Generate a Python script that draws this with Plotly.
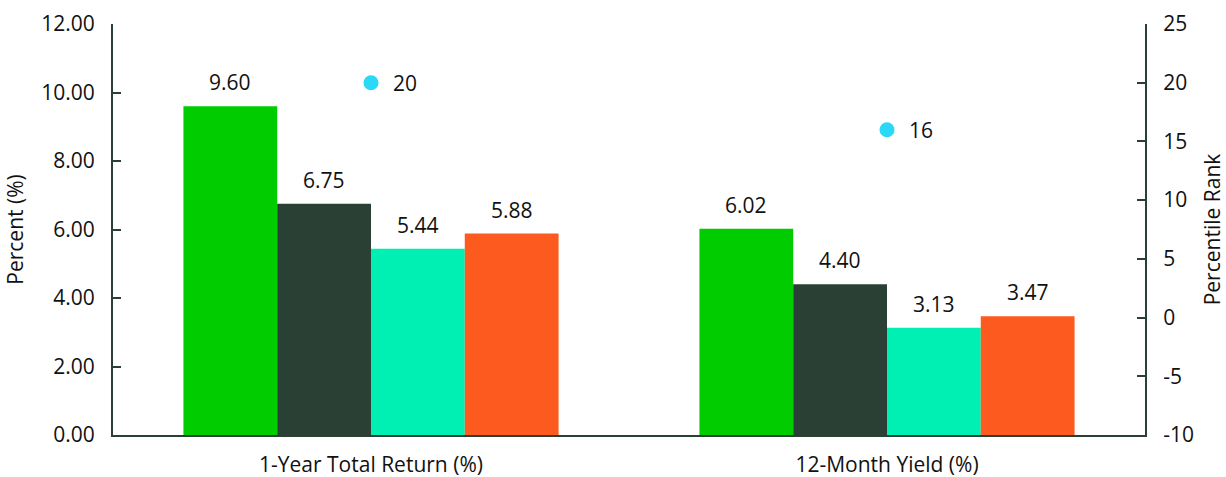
import plotly.graph_objects as go

categories = ["1-Year Total Return (%)", "12-Month Yield (%)"]
series_names = ["Series A", "Series B", "Series C", "Series D"]
series_values = [
    [9.60, 6.02],
    [6.75, 4.40],
    [5.44, 3.13],
    [5.88, 3.47],
]
series_colors = ["#00cc00", "#2a4035", "#00f0b4", "#fc5a1e"]
rank_values = [20, 16]
left_ticks = [0, 2, 4, 6, 8, 10, 12]
right_ticks = [-10, -5, 0, 5, 10, 15, 20, 25]

FONT = "'Open Sans', sans-serif"
FS = 21
AX = "#2a4035"
TXT = "#111111"

fig = go.Figure()
for name, vals, col in zip(series_names, series_values, series_colors):
    fig.add_trace(go.Bar(x=categories, y=vals, name=name, marker_color=col,
                         marker_line_width=0, showlegend=False))

annotations = []
for i, vals in enumerate(series_values):
    for j, v in enumerate(vals):
        annotations.append(dict(
            x=j, y=v, xref="x", yref="y", text=f"{v:.2f}", showarrow=False,
            yshift=24, xshift=(i - 1.5) * 94,
            font=dict(size=FS, color=TXT, family=FONT)))

fig.add_trace(go.Scatter(x=categories, y=rank_values, yaxis="y2", mode="markers",
                         marker=dict(color="#29d9f7", size=15), showlegend=False))
for j, v in enumerate(rank_values):
    annotations.append(dict(
        x=j, y=v, xref="x", yref="y2", text=str(v), showarrow=False,
        xanchor="left", xshift=20, font=dict(size=FS, color=TXT, family=FONT)))

fig.update_layout(
    width=1226, height=477,
    margin=dict(l=113, r=81, t=24, b=42),
    paper_bgcolor="white", plot_bgcolor="white",
    barmode="group", bargap=0.273, bargroupgap=0,
    font=dict(family=FONT, size=FS, color=TXT),
    annotations=annotations,
    xaxis=dict(showline=True, linecolor=AX, linewidth=2, ticks="", showgrid=False,
               tickfont=dict(size=FS), ticklabelstandoff=10, automargin=False),
    yaxis=dict(range=[0, 12], tickvals=left_ticks, tickformat=".2f",
               showline=True, linecolor=AX, linewidth=2, ticks="inside", ticklen=8,
               tickcolor=AX, tickwidth=2, showgrid=False, zeroline=False,
               title=dict(text="Percent (%)", font=dict(size=FS), standoff=12),
               ticklabelstandoff=12, automargin=False),
    yaxis2=dict(range=[-10, 25], tickvals=right_ticks,
                ticktext=[str(v) for v in right_ticks],
                overlaying="y", side="right",
                showline=True, linecolor=AX, linewidth=2, ticks="inside", ticklen=8,
                tickcolor=AX, tickwidth=2, showgrid=False, zeroline=False,
                title=dict(text="Percentile Rank", font=dict(size=FS), standoff=12),
                ticklabelstandoff=12, automargin=False),
)

fig.write_html("out.html")
